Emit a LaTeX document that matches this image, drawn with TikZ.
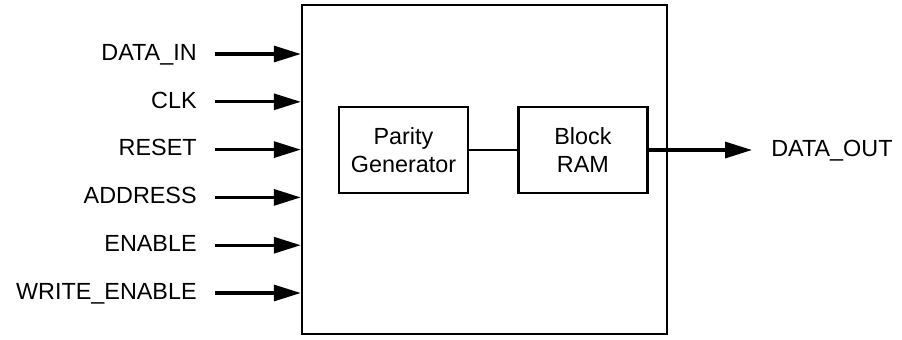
\documentclass[tikz,border=0pt]{standalone}
\usepackage{fontspec}
\setmainfont{Liberation Sans}
\usetikzlibrary{arrows.meta,positioning}
\newcommand\sigfont{\fontsize{13.3}{15.6}\selectfont}

\begin{document}
\begin{tikzpicture}[
  x=0.02cm, y=-0.02cm,
  frame/.style={draw, line width=1.4pt, minimum width=7.3cm, minimum height=6.58cm},
  blockbox/.style={draw, line width=1.4pt, align=center, minimum width=2.58cm, minimum height=1.72cm, font=\sigfont},
  sig/.style={-{Triangle[length=0.54cm, width=0.32cm]}, line width=1.8pt},
  wire/.style={line width=1.4pt},
  pinlabel/.style={font=\sigfont, inner sep=0pt, text height=0.72em, text depth=0pt}
]
\useasboundingbox (0,0) rectangle (902,339);

\node[frame] (top) at (484.5,169.5) {};
\node[blockbox] (parity) at (403.5,150) {Parity\\Generator};
\node[blockbox, right=0.96cm of parity] (ram) {Block\\RAM};

\node[pinlabel, anchor=east] (din) at (197,54) {DATA\_IN};
\node[pinlabel, anchor=east] (clk) at (197,101.8) {CLK};
\node[pinlabel, anchor=east] (rst) at (197,149.6) {RESET};
\node[pinlabel, anchor=east] (addr) at (197,197.4) {ADDRESS};
\node[pinlabel, anchor=east] (en) at (197,245.2) {ENABLE};
\node[pinlabel, anchor=east] (wen) at (197,293) {WRITE\_ENABLE};
\node[pinlabel, anchor=west] (dout) at (771,150) {DATA\_OUT};

\draw[sig] ([xshift=0.36cm]din.east) -- (din -| top.west);
\draw[sig] ([xshift=0.36cm]clk.east) -- (clk -| top.west);
\draw[sig] ([xshift=0.36cm]rst.east) -- (rst -| top.west);
\draw[sig] ([xshift=0.36cm]addr.east) -- (addr -| top.west);
\draw[sig] ([xshift=0.36cm]en.east) -- (en -| top.west);
\draw[sig] ([xshift=0.36cm]wen.east) -- (wen -| top.west);
\draw[wire] (parity) -- (ram);
\draw[sig] (ram.east) -- ([xshift=-0.38cm]dout.west);
\end{tikzpicture}
\end{document}
